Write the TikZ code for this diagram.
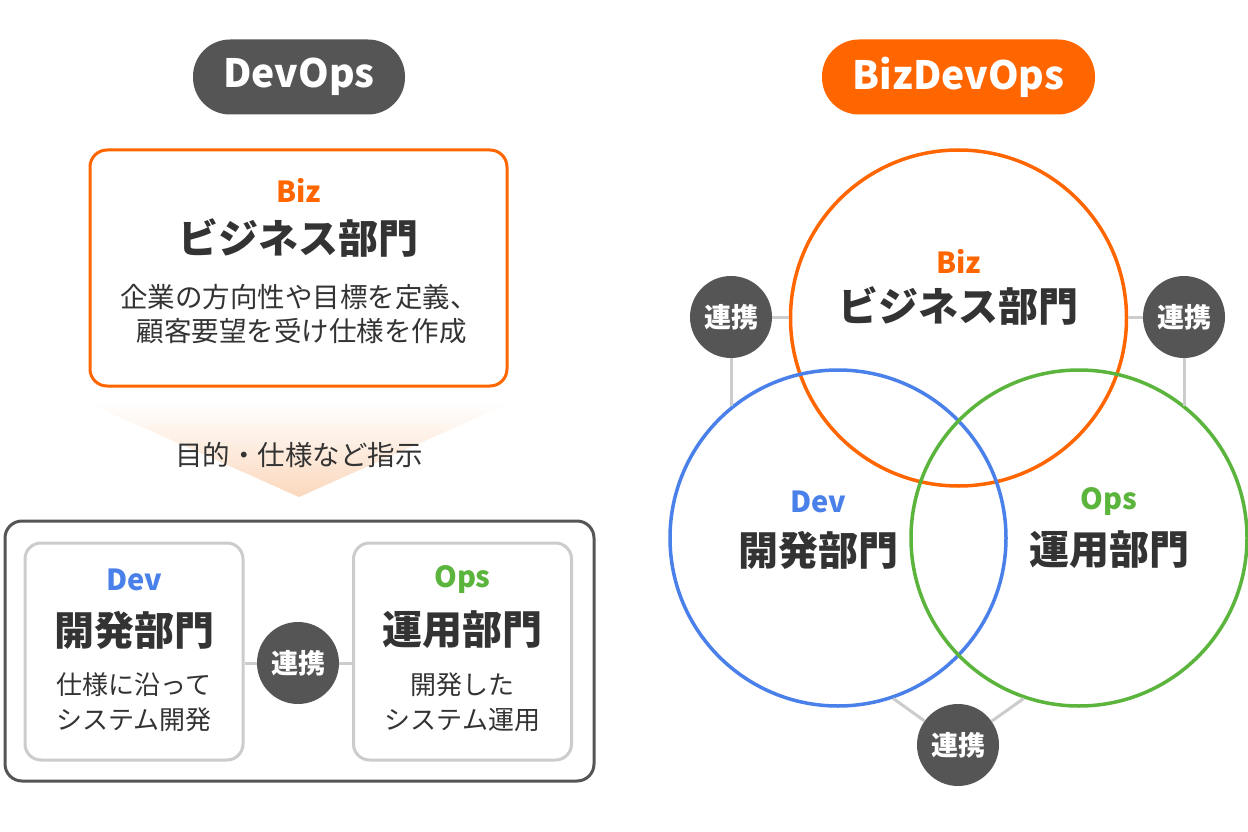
\documentclass[tikz,border=0pt]{standalone}
\usepackage{fontspec}
\setmainfont{Noto Sans CJK JP}
\definecolor{bizor}{HTML}{FF6600}
\definecolor{dgray}{HTML}{555555}
\definecolor{lgray}{HTML}{CCCCCC}
\definecolor{txt}{HTML}{333333}
\definecolor{devblue}{HTML}{4A80EA}
\definecolor{opsgreen}{HTML}{5BB43C}
\definecolor{peach}{HTML}{FBD8BD}
\tikzset{
  pill/.style={rounded corners=37pt, minimum height=75pt, inner sep=0pt, text=white, font=\fontsize{39}{46}\selectfont\bfseries},
  tag/.style={inner sep=0pt, font=\fontsize{29}{34}\selectfont\bfseries},
  dept/.style={inner sep=0pt, text=txt, font=\fontsize{40}{48}\selectfont\bfseries},
  desc/.style={inner sep=0pt, text=txt, font=\fontsize{27.5}{32}\selectfont},
  sdesc/.style={inner sep=0pt, text=txt, font=\fontsize{26}{31}\selectfont},
  panel/.style={draw, line width=3pt, rounded corners=17pt, inner sep=0pt},
  linkc/.style={circle, fill=dgray, minimum size=82pt, inner sep=0pt, text=white, font=\fontsize{27}{32}\selectfont\bfseries},
  link/.style={draw=lgray, line width=3pt},
  venn/.style={circle, draw, line width=3.5pt, minimum size=336pt, inner sep=0pt},
}
\begin{document}
\begin{tikzpicture}[x=1pt,y=-1pt]
\useasboundingbox[fill=white] (0,0) rectangle (1248,832);

% ---------- Left: DevOps ----------
\node[pill, fill=dgray, minimum width=212pt] (devops) at (299,77) {DevOps};

\node[panel, draw=bizor, minimum width=417pt, minimum height=236pt] (bizbox) at (298.5,268) {};
\node[tag, text=bizor] (biztag) at (298.5,190) {Biz};
\node[dept] (bizname) at (298.5,238) {ビジネス部門};
\node[desc] (bizd1) at (299,297) {企業の方向性や目標を定義、};
\node[desc] (bizd2) at (301.5,331) {顧客要望を受け仕様を作成};

\shade[top color=white, bottom color=peach] (86,402) -- (512,402) -- (299,497) -- cycle;
\node[desc] (instr) at (299,455) {目的・仕様など指示};

\node[panel, draw=dgray, minimum width=589pt, minimum height=260pt] (outer) at (299.5,651) {};
\node[panel, draw=lgray, minimum width=218pt, minimum height=217pt, rounded corners=16pt] (devbox) at (134,651.5) {};
\node[panel, draw=lgray, minimum width=218pt, minimum height=217pt, rounded corners=16pt] (opsbox) at (462.5,651.5) {};
\node[linkc] (c1) at (298,663) {連携};
\draw[link] (devbox.east |- c1) -- (c1);
\draw[link] (c1) -- (opsbox.west |- c1);

\node[tag, text=devblue] (devtag) at (134,580) {Dev};
\node[dept] (devname) at (134,630) {開発部門};
\node[sdesc] (devd1) at (134,685) {仕様に沿って};
\node[sdesc] (devd2) at (134,720) {システム開発};

\node[tag, text=opsgreen] (opstag) at (462.5,580) {Ops};
\node[dept] (opsname) at (462.5,630) {運用部門};
\node[sdesc] (opsd1) at (462.5,685) {開発した};
\node[sdesc] (opsd2) at (462.5,720) {システム運用};

% ---------- Right: BizDevOps ----------
\node[pill, fill=bizor, minimum width=273pt] (bizdevops) at (958.5,77) {BizDevOps};

\node[venn, draw=bizor] (bizc) at (958.5,318) {};
\node[venn, draw=devblue] (devc) at (838,538) {};
\node[venn, draw=opsgreen] (opsc) at (1079,538) {};

\node[linkc] (cl) at (731,317) {連携};
\node[linkc] (cr) at (1184,317) {連携};
\node[linkc] (cb) at (958,745) {連携};

\draw[link] (cl) -- (bizc.west |- cl);
\draw[link] (cl) -- (cl |- devc.129.6);
\draw[link] (cr) -- (bizc.east |- cr);
\draw[link] (cr) -- (cr |- opsc.51.5);
\draw[link] (cb) -- (devc.289);
\draw[link] (cb) -- (opsc.251);

\node[tag, text=bizor] (biztag2) at (958.5,261) {Biz};
\node[dept] (bizname2) at (958.5,306) {ビジネス部門};
\node[tag, text=devblue] (devtag2) at (818,502) {Dev};
\node[dept] (devname2) at (818,550) {開発部門};
\node[tag, text=opsgreen] (opstag2) at (1109,502) {Ops};
\node[dept] (opsname2) at (1109,550) {運用部門};
\end{tikzpicture}
\end{document}
